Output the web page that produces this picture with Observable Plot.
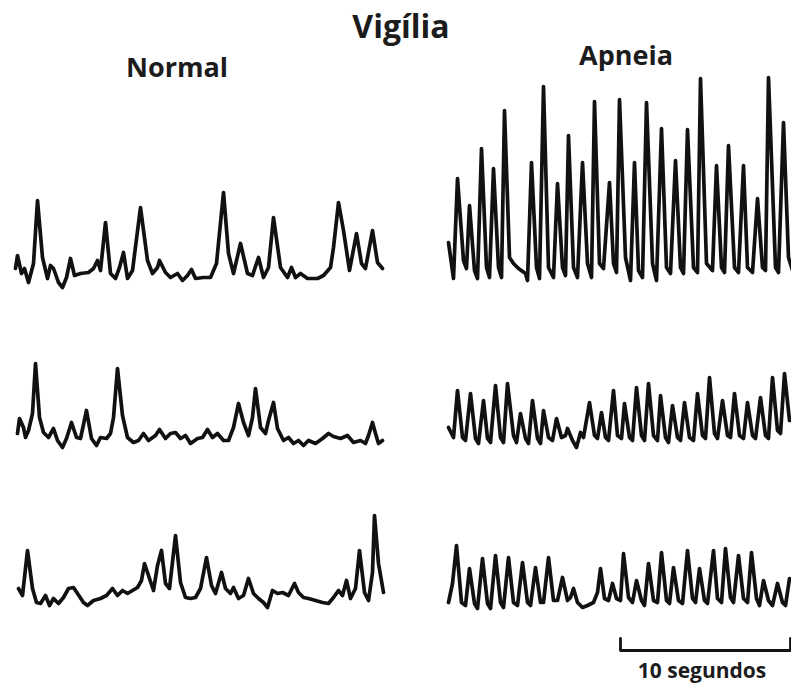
<!DOCTYPE html>
<html><head><meta charset="utf-8">
<script src="https://cdn.jsdelivr.net/npm/d3@7"></script>
<script src="https://cdn.jsdelivr.net/npm/@observablehq/plot@0.6"></script>
<style>
html,body{margin:0;padding:0;background:#fff;overflow:hidden;}
#wrap{position:relative;width:791px;height:684px;overflow:hidden;background:#fff;}
.trace{position:absolute;width:370px;height:162px;}
.trace svg{overflow:visible;max-width:none !important;width:370px;height:162px;}
#labels{position:absolute;left:0;top:0;}
#labels text{font-family:"Open Sans",sans-serif;font-weight:700;fill:#1c1c1c;text-anchor:middle;}
</style></head><body>
<div id="wrap">
<svg id="labels" width="791" height="684">
  <text x="401" y="38" font-size="32">Vigília</text>
  <text x="177" y="77" font-size="27">Normal</text>
  <text x="626" y="65" font-size="27">Apneia</text>
  <text x="702" y="678" font-size="21">10 segundos</text>
</svg></div>
<script>
// time in samples (17 samples = 1 s), amplitude in arbitrary units
const conditions = ["Normal", "Apneia"];
const rows = [1, 2, 3];
const samplesPerSecond = 17;
const scaleBarSeconds = 10;

const normal1 = [[2,22],[4,35],[8,17],[11,22],[15,8],[20,27],[24,90],[29,33],[34,12],[37,25],[40,22],[45,8],[49,3],[53,13],[57,32],[61,15],[67,17],[75,18],[80,22],[84,30],[87,20],[92,68],[97,17],[102,12],[106,23],[110,38],[114,12],[119,20],[127,83],[134,30],[139,17],[144,23],[146,30],[152,18],[157,13],[164,17],[169,10],[174,15],[178,21],[182,12],[190,13],[197,13],[203,27],[210,98],[215,37],[220,17],[227,47],[234,17],[239,15],[245,33],[250,13],[255,23],[260,73],[267,23],[274,13],[278,23],[282,13],[287,17],[294,12],[304,12],[310,15],[317,23],[320,43],[325,88],[330,60],[336,20],[343,57],[348,27],[352,22],[359,60],[364,28],[369,22]];

const apneia1 = [[1,48],[6,12],[10,112],[16,30],[19,22],[22,85],[27,20],[30,12],[34,142],[39,23],[42,13],[46,122],[51,23],[54,13],[57,180],[62,33],[66,27],[71,22],[78,17],[80,10],[84,128],[89,23],[92,12],[96,204],[101,23],[106,13],[110,107],[115,23],[118,15],[121,155],[126,23],[130,13],[135,128],[140,27],[144,13],[147,189],[152,27],[156,22],[162,108],[166,27],[169,18],[172,191],[178,33],[183,10],[187,128],[191,20],[195,13],[199,188],[205,27],[209,10],[214,162],[219,23],[223,17],[228,130],[233,23],[236,17],[240,161],[246,23],[250,18],[253,212],[259,27],[265,20],[269,125],[274,23],[277,18],[281,145],[287,23],[291,18],[296,125],[300,23],[305,18],[310,92],[315,23],[318,20],[321,213],[328,23],[331,18],[336,168],[341,33],[345,20]];

const normal2 = [[4,19],[6,34],[10,25],[12,15],[15,22],[19,39],[22,89],[26,35],[30,20],[35,15],[40,24],[44,12],[49,5],[53,14],[58,30],[63,15],[67,14],[73,42],[78,14],[83,7],[87,15],[93,14],[97,19],[100,35],[104,84],[109,37],[114,15],[120,10],[125,12],[130,19],[135,12],[142,17],[146,23],[152,14],[157,19],[162,20],[167,14],[172,17],[177,9],[184,14],[189,15],[194,23],[199,15],[204,19],[210,12],[215,12],[220,25],[225,49],[230,30],[235,17],[239,35],[242,64],[247,25],[252,19],[255,32],[260,50],[264,24],[270,12],[275,15],[280,9],[285,12],[290,7],[295,12],[302,9],[309,14],[315,19],[320,16],[327,14],[334,17],[340,10],[347,12],[352,9],[355,17],[359,30],[362,19],[365,9],[369,12]];

const apneia2 = [[1,25],[6,15],[10,62],[15,15],[18,12],[23,59],[28,14],[31,9],[36,52],[40,14],[43,10],[48,67],[53,15],[56,10],[60,69],[66,17],[69,10],[73,39],[78,14],[81,9],[85,52],[90,14],[93,9],[96,42],[101,15],[105,12],[109,34],[114,15],[118,17],[120,24],[125,12],[129,5],[133,20],[136,15],[142,50],[147,17],[150,14],[154,40],[158,15],[161,12],[166,62],[170,17],[174,14],[177,49],[182,15],[185,12],[189,65],[194,17],[197,12],[201,69],[206,17],[210,12],[213,57],[218,15],[221,10],[225,47],[230,15],[233,12],[237,50],[242,15],[246,12],[250,59],[255,17],[258,14],[262,75],[267,19],[270,14],[275,52],[280,17],[283,15],[287,59],[292,17],[296,14],[300,50],[305,17],[308,14],[313,55],[318,17],[321,14],[325,75],[330,22],[333,19],[337,79],[342,32]];

const normal3 = [[5,26],[9,19],[14,64],[19,26],[23,12],[27,11],[32,19],[36,9],[40,16],[45,11],[50,17],[55,26],[60,27],[64,21],[70,12],[74,9],[80,14],[87,16],[93,19],[99,26],[104,19],[109,24],[114,21],[119,24],[124,27],[128,34],[131,51],[135,39],[140,24],[144,49],[148,64],[152,31],[156,26],[162,79],[167,32],[172,17],[177,16],[182,17],[187,26],[193,57],[198,29],[202,21],[208,42],[212,26],[217,21],[220,27],[225,16],[230,19],[235,36],[240,21],[245,16],[250,12],[254,7],[259,24],[264,21],[269,22],[275,19],[281,31],[285,22],[290,17],[295,16],[302,14],[309,12],[315,11],[320,17],[325,24],[329,19],[333,34],[337,16],[342,26],[346,64],[351,22],[355,14],[359,42],[361,99],[365,51],[370,22]];

const apneia3 = [[1,12],[5,31],[9,69],[14,12],[18,9],[22,46],[27,11],[30,6],[35,56],[40,11],[43,6],[48,59],[53,12],[56,7],[61,57],[66,12],[70,9],[75,52],[80,12],[83,9],[88,47],[93,12],[96,12],[101,57],[106,14],[110,14],[115,37],[120,14],[123,17],[126,26],[130,12],[135,7],[140,9],[146,12],[150,22],[153,46],[157,16],[161,14],[165,31],[169,16],[173,14],[176,61],[181,17],[185,12],[189,34],[194,14],[197,9],[201,51],[206,14],[210,12],[214,62],[219,14],[222,11],[226,47],[231,14],[235,11],[240,64],[245,16],[248,12],[252,46],[257,14],[260,11],[266,64],[270,16],[274,12],[278,66],[283,17],[286,12],[291,59],[296,16],[300,12],[304,62],[309,16],[312,9],[316,34],[321,14],[325,9],[330,31],[335,12],[338,9],[342,36]];

const traces = [
  {condition: "Normal", row: 1, points: normal1},
  {condition: "Apneia", row: 1, points: apneia1},
  {condition: "Normal", row: 2, points: normal2},
  {condition: "Apneia", row: 2, points: apneia2},
  {condition: "Normal", row: 3, points: normal3},
  {condition: "Apneia", row: 3, points: apneia3}
];

// layout of the panels (pixels)
const panelWidth = 370, panelHeight = 162;
const columnLeft = {Normal: 13, Apneia: 447};
const rowTop = {1: 128, 2: 290, 3: 452};

// scale bar (10 s) under the last Apneia trace
const barStart = 173, barTop = -24, barBottom = -36;
const barEnd = barStart + scaleBarSeconds * samplesPerSecond;
const bar = [[barStart, barTop], [barStart, barBottom], [barEnd, barBottom], [barEnd, barTop]]
  .map(([t, v]) => ({t, v}));

const wrap = document.getElementById("wrap");
for (const tr of traces) {
  const data = tr.points.map(([t, v]) => ({t, v}));
  const marks = [
    Plot.line(data, {x: "t", y: "v", stroke: "#111", strokeWidth: 3.7, strokeLinejoin: "round", strokeLinecap: "round"})
  ];
  if (tr.condition === "Apneia" && tr.row === 3) {
    marks.push(Plot.line(bar, {x: "t", y: "v", stroke: "#141414", strokeWidth: 2.8, strokeLinejoin: "round"}));
  }
  const chart = Plot.plot({
    width: panelWidth, height: panelHeight,
    margin: 0,
    style: {background: "transparent", overflow: "visible", maxWidth: "none"},
    x: {domain: [0, panelWidth], axis: null},
    y: {domain: [0, panelHeight], axis: null},
    marks
  });
  const div = document.createElement("div");
  div.className = "trace";
  div.style.left = columnLeft[tr.condition] + "px";
  div.style.top = rowTop[tr.row] + "px";
  div.appendChild(chart);
  wrap.insertBefore(div, wrap.firstChild);
}
</script>
</body></html>
